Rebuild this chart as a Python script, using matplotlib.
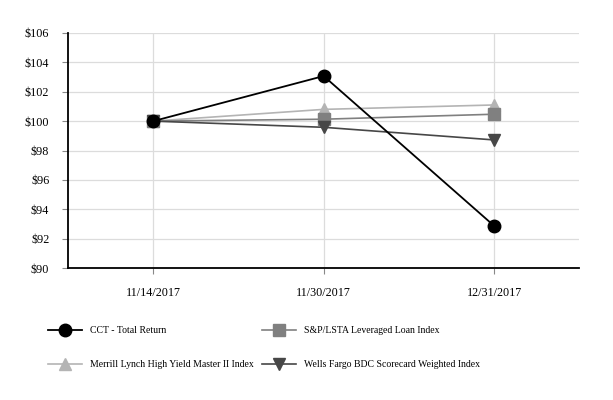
import matplotlib.pyplot as plt
import numpy as np

dates = ['11/14/2017', '11/30/2017', '12/31/2017']
cct = [100.0, 103.07, 92.87]
sp_lsta = [100.0, 100.13, 100.47]
merrill = [100.0, 100.8, 101.1]
wells = [100.0, 99.58, 98.72]

plt.rcParams['font.family'] = ['Liberation Serif', 'DejaVu Serif']

fig = plt.figure(figsize=(6.13, 4.0), dpi=100)
ax = fig.add_axes([0.111, 0.33, 0.834, 0.5875])

x = np.arange(len(dates))
# draw lighter series first so CCT sits on top
ax.plot(x, merrill, color='#b4b4b4', marker='^', markersize=9, linewidth=1.2,
        label='Merrill Lynch High Yield Master II Index', zorder=3)
ax.plot(x, sp_lsta, color='#808080', marker='s', markersize=9, linewidth=1.2,
        label='S&P/LSTA Leveraged Loan Index', zorder=4)
ax.plot(x, wells, color='#474747', marker='v', markersize=9, linewidth=1.2,
        label='Wells Fargo BDC Scorecard Weighted Index', zorder=5)
ax.plot(x, cct, color='black', marker='o', markersize=9, linewidth=1.3,
        label='CCT - Total Return', zorder=6)

ax.set_xlim(-0.5, 2.5)
ax.set_ylim(90, 106)
ax.set_xticks(x)
ax.set_xticklabels(dates)
yt = np.arange(90, 107, 2)
ax.set_yticks(yt)
ax.set_yticklabels(['$%d' % v for v in yt])

ax.grid(True, color='#dcdcdc', linewidth=0.9)
ax.set_axisbelow(True)
for s in ['top', 'right']:
    ax.spines[s].set_visible(False)
ax.spines['left'].set_linewidth(1.3)
ax.spines['bottom'].set_linewidth(1.3)
ax.tick_params(axis='y', length=4.5, width=0.8, color='#888888', pad=9, labelsize=8.7)
ax.tick_params(axis='x', length=4.5, width=0.8, color='#888888', pad=9, labelsize=8.7)

# legend: row 1 CCT / S&P, row 2 Merrill / Wells
handles, labels = ax.get_legend_handles_labels()
order = [3, 0, 1, 2]
fig.legend([handles[i] for i in order], [labels[i] for i in order],
           loc='upper left', bbox_to_anchor=(48 / 613, 1 - 326 / 400), ncol=2,
           frameon=False, fontsize=7.0, handlelength=3.5, columnspacing=0.9,
           labelspacing=2.6, handletextpad=0.8, borderpad=0, borderaxespad=0)

fig.savefig('out.png', dpi=100)
